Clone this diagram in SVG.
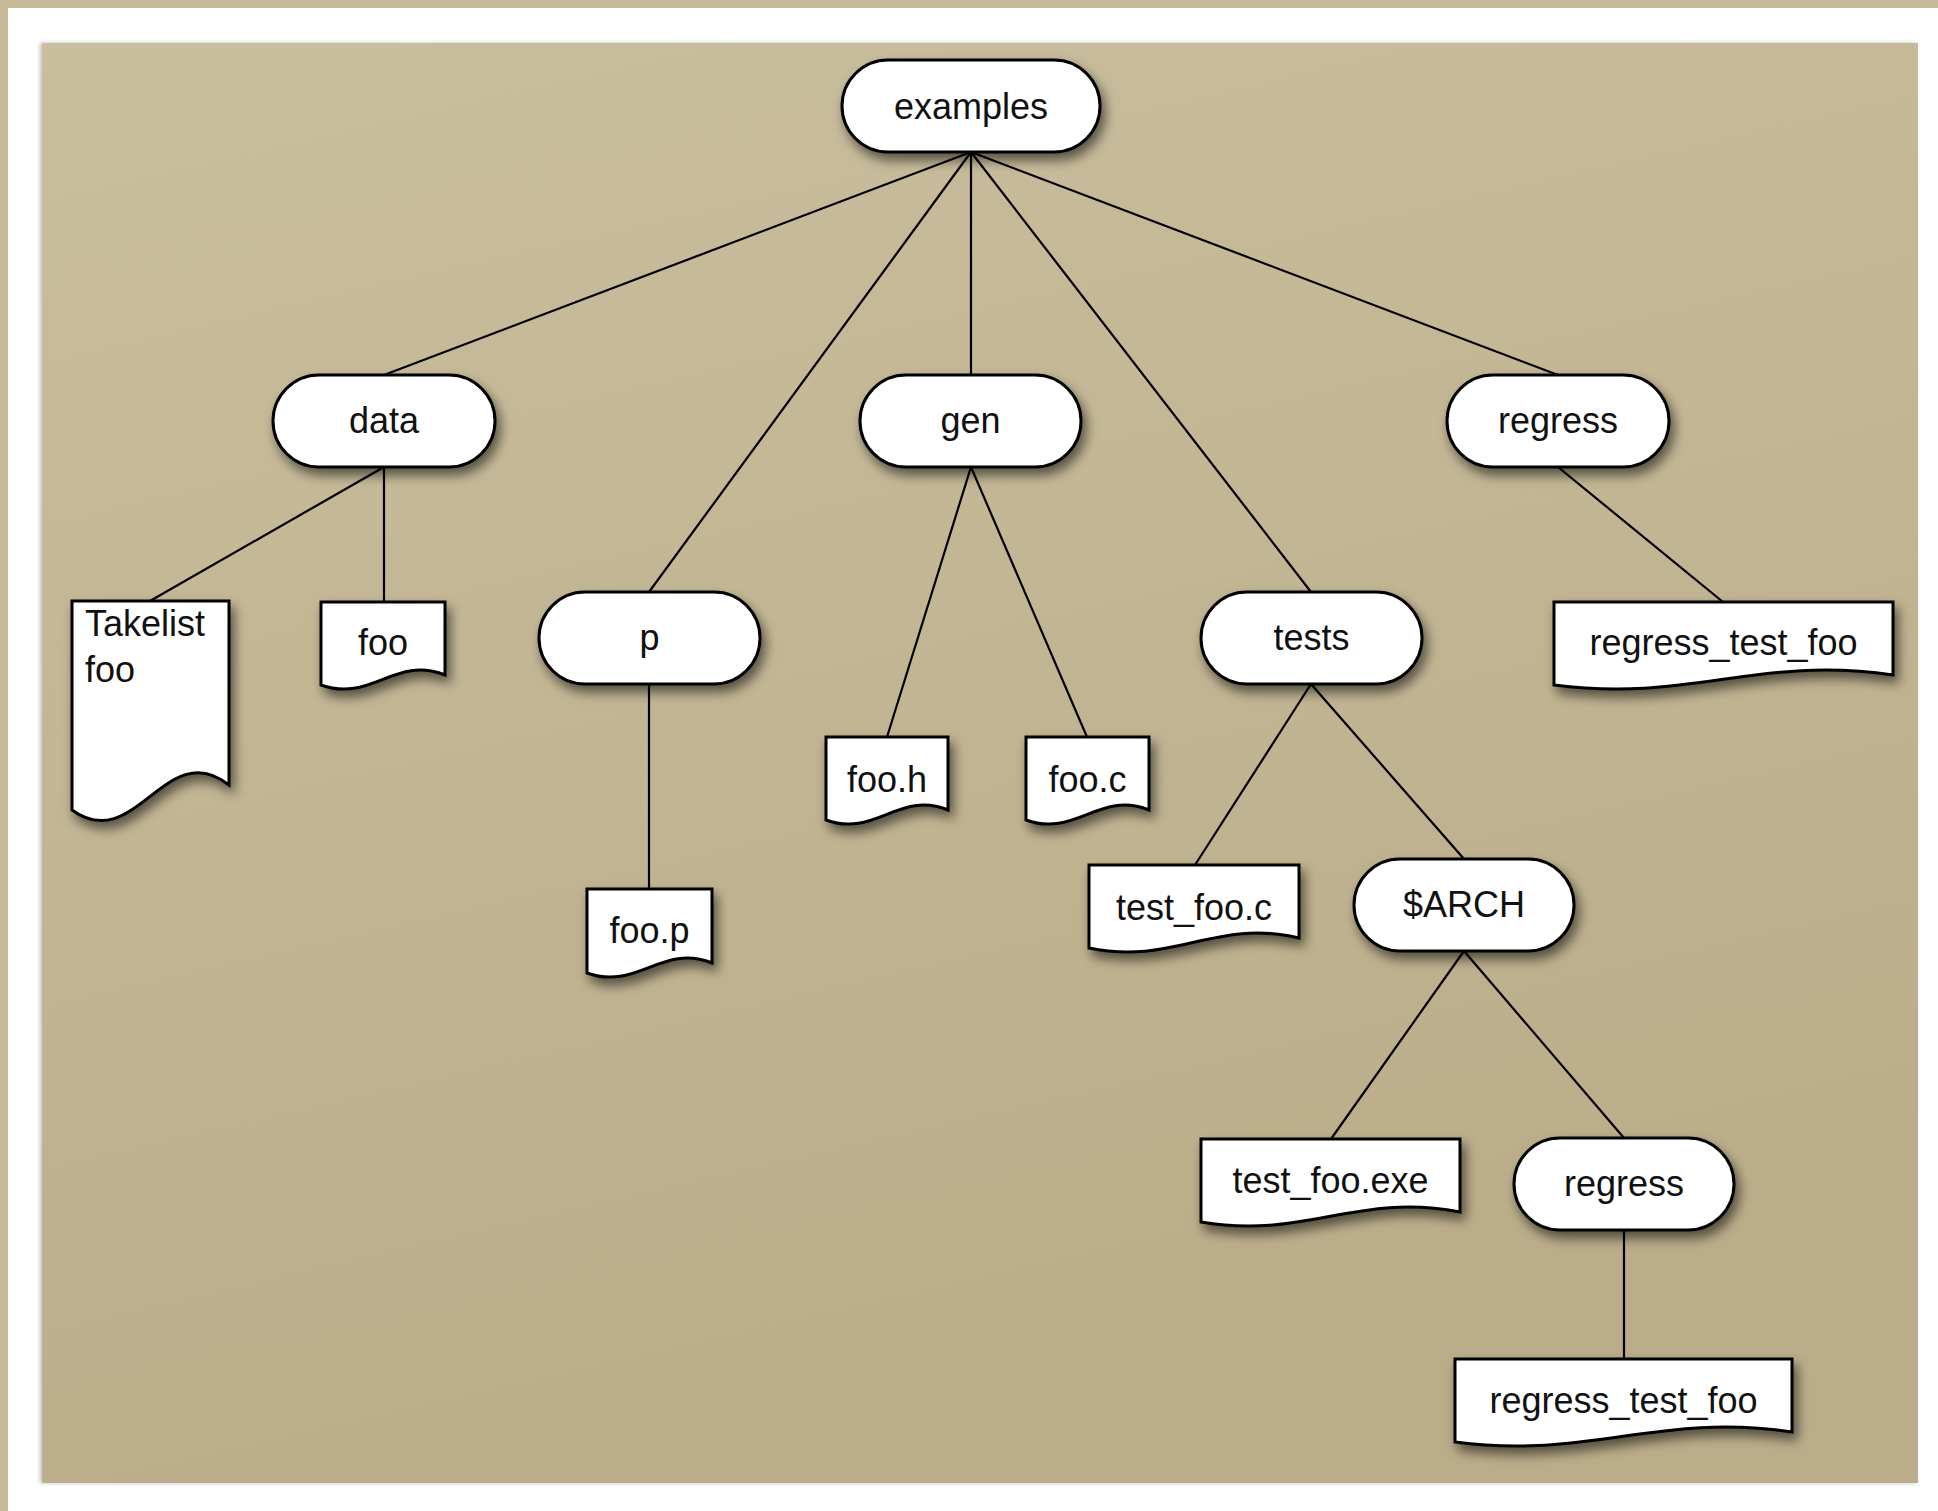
<svg xmlns="http://www.w3.org/2000/svg" width="1938" height="1511" viewBox="0 0 1938 1511">
<defs>
<linearGradient id="bg" x1="0" y1="0" x2="0.3" y2="1">
<stop offset="0" stop-color="#c9be9e"/>
<stop offset="1" stop-color="#bbad8a"/>
</linearGradient>
<filter id="sh" x="-20%" y="-20%" width="150%" height="160%">
<feDropShadow dx="4" dy="7" stdDeviation="6" flood-color="#000" flood-opacity="0.55"/>
</filter>
<filter id="psh" x="-5%" y="-5%" width="110%" height="110%">
<feDropShadow dx="-2" dy="0" stdDeviation="2" flood-color="#000" flood-opacity="0.25"/>
</filter>
</defs>
<style>
.n{fill:#fff;stroke:#000;stroke-width:3;filter:url(#sh)}
.t{font-family:"Liberation Sans",Arial,Helvetica,sans-serif;font-size:36px;fill:#111;text-anchor:middle}
.tl{font-family:"Liberation Sans",Arial,Helvetica,sans-serif;font-size:36px;fill:#111;text-anchor:start}
#connectors line{stroke:#000;stroke-width:2.2}
</style>
<rect x="0" y="0" width="1938" height="1511" fill="#c6ba98"/>
<rect x="8" y="8" width="1930" height="1503" fill="#fff"/>
<rect x="42" y="43" width="1876" height="1440" fill="url(#bg)" filter="url(#psh)"/>
<g id="connectors">
<line x1="971" y1="152" x2="384" y2="375"/>
<line x1="971" y1="152" x2="649" y2="592"/>
<line x1="971" y1="152" x2="971" y2="375"/>
<line x1="971" y1="152" x2="1311" y2="592"/>
<line x1="971" y1="152" x2="1558" y2="375"/>
<line x1="384" y1="467" x2="150" y2="601"/>
<line x1="384" y1="467" x2="384" y2="602"/>
<line x1="649" y1="684" x2="649" y2="889"/>
<line x1="971" y1="467" x2="887" y2="737"/>
<line x1="971" y1="467" x2="1087" y2="737"/>
<line x1="1311" y1="684" x2="1195" y2="865"/>
<line x1="1311" y1="684" x2="1464" y2="859"/>
<line x1="1558" y1="467" x2="1723" y2="602"/>
<line x1="1464" y1="951" x2="1331" y2="1139"/>
<line x1="1464" y1="951" x2="1624" y2="1138"/>
<line x1="1624" y1="1230" x2="1624" y2="1359"/>
</g>
<g id="examples"><rect class="n" x="842" y="60" width="258" height="92" rx="46"/><text class="t" x="971" y="119">examples</text></g>
<g id="data"><rect class="n" x="273" y="375" width="222" height="92" rx="46"/><text class="t" x="384" y="433">data</text></g>
<g id="gen"><rect class="n" x="860" y="375" width="221" height="92" rx="46"/><text class="t" x="970.5" y="433">gen</text></g>
<g id="regress"><rect class="n" x="1447" y="375" width="222" height="92" rx="46"/><text class="t" x="1558" y="433">regress</text></g>
<g id="p"><rect class="n" x="539" y="592" width="221" height="92" rx="46"/><text class="t" x="649.5" y="650">p</text></g>
<g id="tests"><rect class="n" x="1201" y="592" width="221" height="92" rx="46"/><text class="t" x="1311.5" y="650">tests</text></g>
<g id="arch"><rect class="n" x="1354" y="859" width="220" height="92" rx="46"/><text class="t" x="1464" y="917">$ARCH</text></g>
<g id="regress2"><rect class="n" x="1514" y="1138" width="220" height="92" rx="46"/><text class="t" x="1624" y="1196">regress</text></g>
<g id="takelist"><path class="n" d="M72,601 H229 V785 C166,735 135,856 72,810 Z"/><text class="tl" x="85" y="636">Takelist</text><text class="tl" x="85" y="682">foo</text></g>
<g id="foo"><path class="n" d="M321,602 H445 V675 C395,655 371,703 321,685 Z"/><text class="t" x="383" y="655">foo</text></g>
<g id="foo_p"><path class="n" d="M587,889 H712 V963 C662,943 637,991 587,973 Z"/><text class="t" x="649.5" y="943">foo.p</text></g>
<g id="foo_h"><path class="n" d="M826,737 H948 V810 C899,790 875,838 826,820 Z"/><text class="t" x="887" y="792">foo.h</text></g>
<g id="foo_c"><path class="n" d="M1026,737 H1149 V810 C1100,790 1075,838 1026,820 Z"/><text class="t" x="1087.5" y="792">foo.c</text></g>
<g id="test_foo_c"><path class="n" d="M1089,865 H1299 V938 C1215,918 1173,966 1089,948 Z"/><text class="t" x="1194" y="920">test_foo.c</text></g>
<g id="test_foo_exe"><path class="n" d="M1201,1139 H1460 V1212 C1356,1192 1305,1240 1201,1222 Z"/><text class="t" x="1330.5" y="1193">test_foo.exe</text></g>
<g id="regress_test_foo"><path class="n" d="M1554,602 H1893 V675 C1757,655 1690,703 1554,685 Z"/><text class="t" x="1723.5" y="655">regress_test_foo</text></g>
<g id="regress_test_foo2"><path class="n" d="M1455,1359 H1792 V1432 C1657,1412 1590,1460 1455,1442 Z"/><text class="t" x="1623.5" y="1413">regress_test_foo</text></g>
</svg>
